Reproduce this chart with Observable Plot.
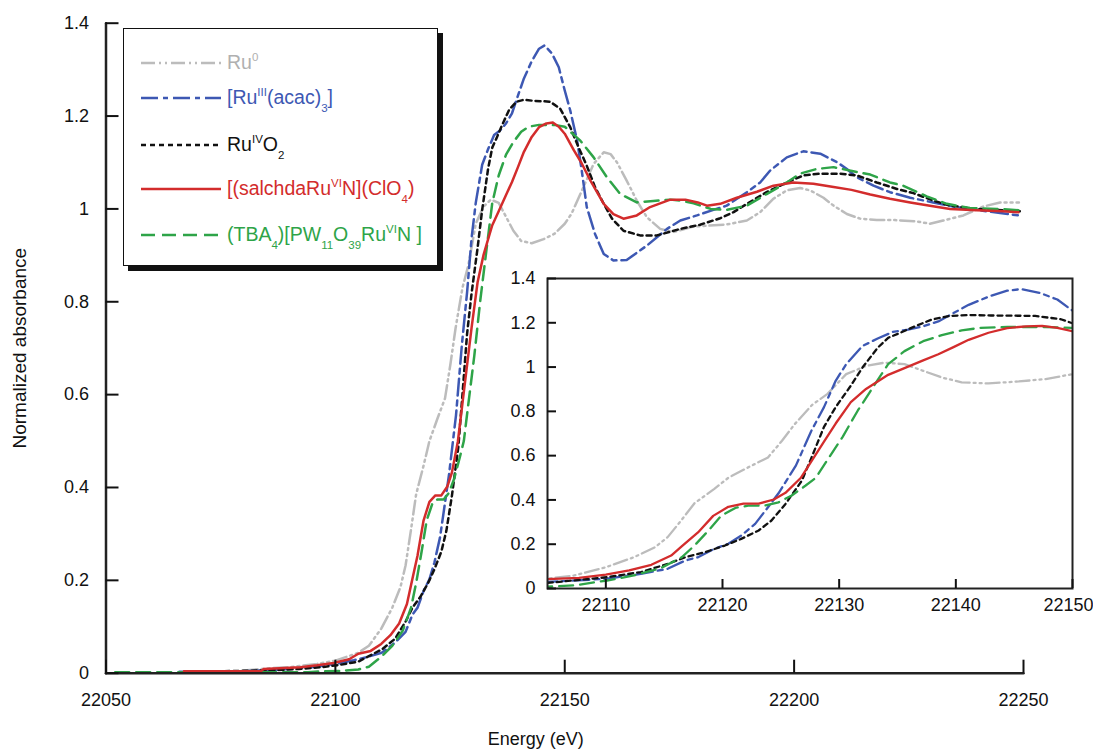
<!DOCTYPE html>
<html>
<head>
<meta charset="utf-8">
<script src="https://cdn.jsdelivr.net/npm/d3@7"></script>
<script src="https://cdn.jsdelivr.net/npm/@observablehq/plot@0.6"></script>
<style>
  html, body { margin: 0; padding: 0; background: #fff; }
  #wrap { position: relative; width: 1093px; height: 755px; overflow: hidden; font-family: "Liberation Sans", Arial, sans-serif; }
  #wrap svg { display: block; }
  #main { position: absolute; left: 0; top: 0; }
  #inset { position: absolute; left: 502px; top: 264px; }
  #legend { position: absolute; left: 123px; top: 28px; width: 313px; height: 236px; border: 1.5px solid #111; box-shadow: 5px 5px 0 #111; background: #fff; }
  .row { position: absolute; left: 0; height: 0; }
  .row svg { position: absolute; left: 17px; top: -5px; }
  .row span { position: absolute; left: 103px; top: -12px; white-space: nowrap; font-size: 19.5px; line-height: 22px; }
  .row sup { font-size: 11.5px; vertical-align: 8px; line-height: 0; }
  .row sub { font-size: 11.5px; vertical-align: -8px; line-height: 0; }
</style>
</head>
<body>
<div id="wrap">
  <div id="main"></div>
  <div id="inset"></div>
  <div id="legend"></div>
</div>
<script>
// ---- data ----
const seriesNames = ["Ru0", "RuIII(acac)3", "RuIVO2", "salchdaRuVIN", "TBA4PW11O39RuVIN"];

const ru0E = [22080, 22085, 22091, 22096, 22100, 22105, 22107.3, 22110, 22112.4, 22114.2, 22115.3, 22116.5, 22117.6, 22119.3, 22120.5, 22122.2, 22123.9, 22125.1, 22126.2, 22127.7, 22129, 22130.6, 22132.3, 22133.9, 22135.6, 22137.2, 22138.8, 22140.5, 22142.8, 22145.4, 22147.7, 22150, 22151.5, 22153.4, 22156.3, 22158.5, 22160, 22161.4, 22163.5, 22165.7, 22167.9, 22170.8, 22173.7, 22178, 22185, 22189.7, 22192.6, 22195.5, 22198.4, 22201.3, 22203.5, 22206.4, 22208.6, 22211.5, 22214.4, 22218, 22222, 22226.7, 22229.6, 22232.5, 22236.9, 22241.2, 22244.9, 22249];
const ru0A = [0.006, 0.01, 0.014, 0.02, 0.027, 0.044, 0.059, 0.096, 0.141, 0.186, 0.232, 0.31, 0.385, 0.45, 0.5, 0.547, 0.592, 0.667, 0.743, 0.83, 0.879, 0.968, 1.005, 1.02, 1.013, 0.983, 0.953, 0.931, 0.926, 0.935, 0.946, 0.968, 0.99, 1.032, 1.097, 1.122, 1.118, 1.1, 1.061, 1.018, 0.982, 0.957, 0.95, 0.962, 0.966, 0.975, 0.993, 1.022, 1.04, 1.045, 1.04, 1.024, 1.007, 0.989, 0.979, 0.976, 0.976, 0.973, 0.968, 0.975, 0.986, 1.005, 1.014, 1.014];

const acacE = [22066, 22080, 22090, 22096, 22100, 22104, 22107, 22110.1, 22113, 22115.3, 22116.8, 22117.9, 22119.3, 22120.5, 22121.6, 22122.8, 22123.9, 22124.8, 22126.3, 22127.6, 22128.7, 22129.7, 22130.6, 22132, 22133.3, 22134.6, 22135.9, 22137.2, 22138.5, 22139.8, 22141.1, 22142.8, 22144.4, 22145.6, 22147.2, 22148.7, 22150, 22151.2, 22152.7, 22153.7, 22154.8, 22156.6, 22158.5, 22160.6, 22163.5, 22167.9, 22172.3, 22175.2, 22178.8, 22182.4, 22185.3, 22189.7, 22192.6, 22194.8, 22198.4, 22202, 22205.7, 22209.3, 22211.5, 22213.7, 22217.3, 22220.9, 22225.3, 22230.3, 22234.7, 22239.8, 22244.9, 22249];
const acacA = [0.003, 0.004, 0.009, 0.014, 0.02, 0.028, 0.035, 0.044, 0.066, 0.089, 0.126, 0.141, 0.179, 0.202, 0.239, 0.292, 0.367, 0.43, 0.556, 0.71, 0.819, 0.938, 1.013, 1.095, 1.129, 1.159, 1.169, 1.184, 1.206, 1.244, 1.281, 1.318, 1.345, 1.352, 1.335, 1.305, 1.255, 1.212, 1.147, 1.083, 1.004, 0.946, 0.903, 0.889, 0.89, 0.921, 0.957, 0.975, 0.986, 0.998, 1.007, 1.036, 1.057, 1.083, 1.111, 1.124, 1.119, 1.101, 1.086, 1.068, 1.05, 1.036, 1.024, 1.014, 1.005, 0.998, 0.991, 0.986];

const ruo2E = [22068, 22085, 22092, 22097, 22101, 22105, 22110.1, 22113, 22115.3, 22116.8, 22118.5, 22120.2, 22121.6, 22123.1, 22124.2, 22125.4, 22126.8, 22127.7, 22128.7, 22129.7, 22131, 22132, 22133.3, 22134.2, 22135.2, 22136.5, 22137.9, 22139.5, 22141.1, 22143, 22146.8, 22149, 22151.2, 22153, 22154.8, 22156.6, 22158.5, 22160.3, 22162.8, 22166.4, 22170.1, 22175.2, 22179.5, 22183.9, 22186.8, 22189.7, 22194, 22198.4, 22202, 22205.7, 22210, 22213.7, 22218, 22222.4, 22226, 22230.3, 22234, 22239.8, 22245.6, 22249.2];
const ruo2A = [0.003, 0.006, 0.009, 0.013, 0.018, 0.025, 0.051, 0.074, 0.111, 0.141, 0.164, 0.194, 0.224, 0.262, 0.307, 0.382, 0.487, 0.6, 0.73, 0.819, 0.916, 0.998, 1.087, 1.132, 1.154, 1.184, 1.214, 1.231, 1.235, 1.233, 1.231, 1.216, 1.176, 1.133, 1.093, 1.047, 1.011, 0.979, 0.953, 0.943, 0.943, 0.957, 0.966, 0.98, 0.993, 1.011, 1.036, 1.057, 1.072, 1.076, 1.076, 1.072, 1.057, 1.043, 1.034, 1.018, 1.007, 1.0, 0.997, 0.995];

const salE = [22067, 22083.7, 22084.4, 22092.4, 22096, 22099.6, 22103, 22105, 22107.7, 22110, 22112, 22113.9, 22115.6, 22116.5, 22117.9, 22119.2, 22120.5, 22121.8, 22123.1, 22124.4, 22125.4, 22126.7, 22127.7, 22128.7, 22129.7, 22131, 22132.3, 22133.3, 22134.2, 22135.6, 22137.2, 22138.5, 22139.8, 22141.1, 22142.8, 22144.4, 22146, 22147.4, 22148.7, 22150, 22152, 22153.6, 22155.6, 22158.5, 22160.6, 22162.8, 22165.7, 22168.6, 22173, 22176.3, 22179, 22181, 22183.9, 22187.5, 22191.9, 22195.5, 22199.8, 22204.2, 22208.6, 22212.5, 22216.6, 22220.9, 22225.3, 22229.6, 22234, 22239.8, 22245.6, 22248.9];
const salA = [0.004, 0.004, 0.009, 0.013, 0.017, 0.022, 0.03, 0.042, 0.048, 0.063, 0.082, 0.107, 0.149, 0.19, 0.253, 0.328, 0.369, 0.383, 0.383, 0.402, 0.432, 0.499, 0.581, 0.663, 0.745, 0.842, 0.901, 0.935, 0.965, 0.995, 1.03, 1.058, 1.09, 1.123, 1.155, 1.176, 1.184, 1.186, 1.177, 1.162, 1.126, 1.1, 1.061, 1.011, 0.989, 0.979, 0.986, 1.004, 1.02, 1.02, 1.014, 1.007, 1.011, 1.024, 1.037, 1.05, 1.057, 1.054, 1.047, 1.041, 1.031, 1.022, 1.014, 1.007, 1.0, 0.997, 0.995, 0.993];

const tbaE = [22052, 22055, 22094, 22097, 22101, 22105, 22107.3, 22110.1, 22112.4, 22114.7, 22116.5, 22117.6, 22118.8, 22119.9, 22121.1, 22122.2, 22123.6, 22124.8, 22125.9, 22127.1, 22128, 22129, 22130.3, 22131.6, 22132.9, 22134.2, 22135.6, 22137.2, 22138.8, 22140.5, 22142.1, 22144.4, 22147.7, 22150, 22153.4, 22156.3, 22159.2, 22162.1, 22165.7, 22169.3, 22173, 22175.2, 22178.1, 22181.8, 22185.3, 22189.7, 22194, 22198.4, 22201.3, 22204.9, 22208.6, 22212.9, 22216.6, 22220.9, 22223.8, 22228.9, 22233.3, 22238.3, 22244.2, 22249.2];
const tbaA = [0.002, 0.002, 0.002, 0.004, 0.005, 0.008, 0.014, 0.036, 0.059, 0.092, 0.141, 0.194, 0.262, 0.329, 0.364, 0.374, 0.374, 0.389, 0.419, 0.464, 0.5, 0.581, 0.685, 0.804, 0.909, 1.013, 1.072, 1.117, 1.144, 1.166, 1.177, 1.181, 1.181, 1.177, 1.147, 1.111, 1.068, 1.032, 1.014, 1.017, 1.02, 1.018, 1.012, 1.0, 0.998, 1.007, 1.032, 1.057, 1.076, 1.086, 1.09, 1.081, 1.074, 1.057, 1.05, 1.027, 1.011, 1.002, 1.0, 0.997];

const mainXTicks = [22050, 22100, 22150, 22200, 22250];
const mainYTicks = [0, 0.2, 0.4, 0.6, 0.8, 1, 1.2, 1.4];
const insetXTicks = [22110, 22120, 22130, 22140, 22150];
const insetYTicks = [0, 0.2, 0.4, 0.6, 0.8, 1, 1.2, 1.4];

const legendLabels = [
  'Ru<sup>0</sup>',
  '[Ru<sup>III</sup>(acac)<sub>3</sub>]',
  'Ru<sup>IV</sup>O<sub>2</sub>',
  '[(salchdaRu<sup>VI</sup>N](ClO<sub>4</sub>)',
  '(TBA<sub>4</sub>)[PW<sub>11</sub>O<sub>39</sub>Ru<sup>VI</sup>N ]'
];
const colors = ["#bcbcbc", "#3d58b3", "#111111", "#d32c2c", "#2ea448"];
const dashes = ["14,4,2,4,2,4", "17,5,5,5", "5,4", null, "14,7"];
const legendY = [34, 69, 116, 160, 206];

// ---- build ----
const seriesE = [ru0E, acacE, ruo2E, salE, tbaE];
const seriesA = [ru0A, acacA, ruo2A, salA, tbaA];
const series = seriesNames.map((name, i) => ({
  name, color: colors[i], dash: dashes[i],
  rows: seriesE[i].map((e, j) => ({e, a: seriesA[i][j]}))
}));
// drawing order: gray, blue, black, green, red
const order = [0, 1, 2, 4, 3];
const fmt = d => String(d);
const font = '"Liberation Sans", Arial, sans-serif';

const main = Plot.plot({
  width: 1093, height: 755,
  marginLeft: 105.5, marginRight: 70, marginTop: 22.7, marginBottom: 82.3,
  x: {domain: [mainXTicks[0], mainXTicks[mainXTicks.length - 1]]},
  y: {domain: [0, 1.4]},
  style: {fontFamily: font, fontSize: "18px", color: "#111", background: "transparent"},
  marks: [
    ...order.map(i => Plot.line(series[i].rows, {
      x: "e", y: "a", stroke: series[i].color, strokeWidth: 2.5,
      strokeDasharray: series[i].dash, strokeLinejoin: "round"
    })),
    Plot.line(mainXTicks, {x: d => d, y: () => 0, stroke: "#222", strokeWidth: 2.5}),
    Plot.line(mainYTicks, {x: () => mainXTicks[0], y: d => d, stroke: "#222", strokeWidth: 2.5}),
    Plot.axisX({ticks: mainXTicks, tickSize: -13, tickPadding: 33, tickFormat: fmt, label: null, strokeWidth: 2, fontSize: 18}),
    Plot.axisY({ticks: mainYTicks, tickSize: -13, tickPadding: 30, tickFormat: fmt, label: null, strokeWidth: 2, fontSize: 18}),
    Plot.text(["Energy (eV)"], {text: d => d, frameAnchor: "bottom", dy: 72, dx: -29, fontSize: 18, fill: "#111"}),
    Plot.text(["Normalized absorbance"], {text: d => d, frameAnchor: "left", textAnchor: "middle", dx: -86, rotate: -90, fontSize: 19, fill: "#111"})
  ]
});
document.getElementById("main").appendChild(main);

const lastInset = insetXTicks[insetXTicks.length - 1];
const inset = Plot.plot({
  width: 591, height: 359,
  marginLeft: 45, marginRight: 21, marginTop: 14, marginBottom: 35,
  x: {domain: [22105, lastInset]},
  y: {domain: [0, 1.4]},
  style: {fontFamily: font, fontSize: "18px", color: "#111", background: "transparent"},
  marks: [
    Plot.frame({fill: "white", stroke: null}),
    ...order.map(i => Plot.line(series[i].rows, {
      x: "e", y: "a", stroke: series[i].color, strokeWidth: 2.3, clip: true,
      strokeDasharray: series[i].dash, strokeLinejoin: "round"
    })),
    Plot.frame({stroke: "#222", strokeWidth: 2}),
    Plot.axisX({ticks: insetXTicks, tickSize: -9, tickPadding: 19, tickFormat: d => d === lastInset ? "" : String(d), label: null, strokeWidth: 2, fontSize: 18}),
    Plot.text([lastInset], {x: d => d, text: fmt, frameAnchor: "bottom", textAnchor: "end", lineAnchor: "top", dy: 10, dx: 21, fontSize: 18, fill: "#111"}),
    Plot.axisY({ticks: insetYTicks, tickSize: -9, tickPadding: 21, tickFormat: fmt, label: null, strokeWidth: 2, fontSize: 18})
  ]
});
document.getElementById("inset").appendChild(inset);

// legend
const legend = document.getElementById("legend");
series.forEach((s, i) => {
  const row = document.createElement("div");
  row.className = "row";
  row.style.top = legendY[i] + "px";
  const svgNS = "http://www.w3.org/2000/svg";
  const svg = document.createElementNS(svgNS, "svg");
  svg.setAttribute("width", 80); svg.setAttribute("height", 10);
  const ln = document.createElementNS(svgNS, "line");
  ln.setAttribute("x1", 0); ln.setAttribute("x2", 80);
  ln.setAttribute("y1", 5); ln.setAttribute("y2", 5);
  ln.setAttribute("stroke", s.color); ln.setAttribute("stroke-width", 2.5);
  if (s.dash) ln.setAttribute("stroke-dasharray", s.dash);
  svg.appendChild(ln);
  row.appendChild(svg);
  const span = document.createElement("span");
  span.innerHTML = legendLabels[i];
  span.style.color = i === 0 ? "#b0b0b0" : s.color;
  row.appendChild(span);
  legend.appendChild(row);
});
</script>
</body>
</html>
